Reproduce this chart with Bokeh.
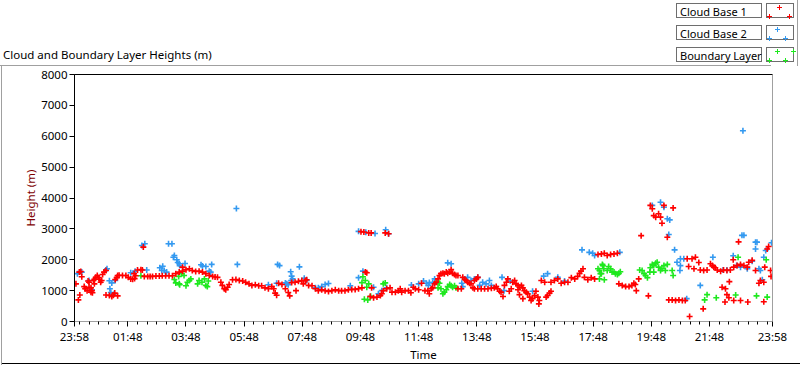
from bokeh.plotting import figure
from bokeh.models import FixedTicker, LinearAxis, Range1d, Div
from bokeh.layouts import column
from bokeh.embed import file_html
from bokeh.resources import INLINE

# time = minutes after the 23:58 start, height in metres
cb1_t = [3, 10, 13, 15, 8, 11, 20, 22, 26, 28, 30, 30, 34, 34, 36, 37, 41, 39, 41, 44, 47, 50, 51, 54, 56, 58, 61, 65, 65, 72, 77, 80, 83, 89, 84, 87, 89, 92, 99, 106, 111, 116, 120, 123, 126, 124, 130, 137, 140, 142, 144, 151, 156, 161, 168, 175, 181, 188, 195, 202, 209, 216, 223, 230, 237, 243, 250, 257, 264, 271, 278, 285, 290, 295, 223, 302, 305, 309, 312, 316, 319, 326, 333, 340, 347, 353, 360, 366, 373, 380, 386, 393, 400, 407, 411, 414, 417, 421, 428, 435, 441, 444, 448, 455, 462, 469, 472, 476, 479, 457, 483, 490, 497, 503, 510, 517, 524, 531, 538, 545, 551, 558, 565, 572, 579, 586, 593, 600, 603, 591, 597, 607, 612, 641, 648, 613, 610, 617, 624, 631, 634, 637, 644, 651, 655, 662, 668, 672, 675, 682, 689, 694, 699, 703, 710, 716, 723, 729, 732, 736, 739, 743, 746, 750, 753, 756, 760, 763, 767, 770, 774, 777, 780, 784, 787, 791, 791, 798, 801, 805, 808, 811, 815, 818, 822, 825, 832, 839, 846, 853, 860, 866, 870, 873, 877, 880, 884, 825, 829, 832, 887, 891, 894, 897, 901, 904, 908, 911, 915, 918, 922, 925, 928, 932, 935, 939, 942, 945, 949, 952, 956, 959, 958, 915, 918, 925, 963, 970, 973, 976, 980, 983, 983, 990, 997, 1004, 1011, 1018, 1025, 1032, 1038, 1042, 1045, 1049, 1052, 1059, 1066, 1073, 1080, 1087, 1093, 1099, 1106, 1113, 1120, 1188, 1192, 1195, 1199, 1205, 1209, 1216, 1235, 1212, 1169, 1223, 1123, 1130, 1137, 1144, 1150, 1154, 1157, 1159, 1164, 1184, 1226, 1233, 1240, 1247, 1254, 1260, 1264, 1274, 1281, 1288, 1278, 1267, 1269, 1297, 1291, 1298, 1305, 1312, 1316, 1319, 1322, 1326, 1333, 1339, 1346, 1336, 1343, 1346, 1350, 1342, 1351, 1360, 1374, 1389, 1353, 1360, 1367, 1374, 1381, 1388, 1391, 1398, 1405, 1412, 1415, 1422, 1424, 1429, 1432, 1436, 1437, 1359, 1370, 1422]
cb1_h = [1220, 1600, 1620, 1450, 700, 860, 1130, 1060, 1000, 1310, 1270, 1110, 1090, 950, 1000, 930, 1220, 1330, 1370, 1430, 1490, 1420, 1370, 1270, 1330, 1520, 1600, 1650, 860, 840, 810, 850, 920, 830, 1360, 1420, 1490, 1500, 1490, 1490, 1430, 1380, 1370, 1550, 1480, 1390, 1670, 1680, 1670, 2410, 1460, 1460, 1460, 1460, 1470, 1470, 1480, 1480, 1480, 1480, 1550, 1600, 1630, 1680, 1710, 1650, 1620, 1630, 1600, 1550, 1490, 1460, 1440, 1430, 1760, 1270, 1170, 1060, 1030, 1110, 1200, 1350, 1360, 1330, 1310, 1270, 1220, 1170, 1190, 1160, 1160, 1090, 1060, 1130, 1060, 920, 850, 1240, 1200, 1060, 940, 830, 1260, 1270, 1300, 1330, 1220, 1330, 1350, 1000, 1170, 1160, 1060, 1000, 1030, 1000, 970, 1000, 1030, 1000, 1000, 1000, 1030, 1040, 1040, 1060, 1090, 1600, 1580, 2910, 2900, 2870, 2870, 2870, 2840, 1090, 810, 770, 790, 840, 900, 1000, 1060, 1090, 950, 950, 1000, 1060, 950, 1000, 1000, 930, 1110, 1060, 1030, 1240, 1000, 1000, 900, 1060, 1090, 1220, 1270, 1380, 1490, 1550, 1560, 1550, 1600, 1560, 1600, 1680, 1560, 1520, 1490, 1490, 1060, 1060, 1430, 1360, 1330, 1270, 1240, 1220, 1090, 1060, 1060, 1060, 1060, 1060, 1080, 1090, 1130, 1060, 980, 950, 810, 1330, 1380, 1430, 1170, 1270, 1380, 980, 1060, 1270, 1330, 1220, 1170, 1110, 1170, 1090, 1000, 950, 900, 790, 680, 740, 840, 980, 790, 680, 570, 1030, 870, 740, 1330, 1270, 790, 840, 920, 980, 1270, 1330, 1380, 1240, 1270, 1270, 1420, 1380, 1460, 1560, 1630, 1710, 1430, 1350, 1420, 1380, 2170, 2190, 2210, 2140, 2170, 2190, 2210, 3760, 3650, 3430, 3380, 3490, 3380, 3760, 3680, 3180, 2780, 2730, 1220, 1170, 1130, 1130, 1170, 1240, 1200, 1000, 1380, 830, 700, 700, 680, 700, 680, 680, 2030, 2030, 2080, 1910, 1710, 1780, 160, 410, 1670, 1650, 1670, 1870, 1810, 1760, 1740, 1670, 1630, 1670, 1650, 1110, 1060, 870, 770, 630, 1290, 680, 680, 630, 1670, 1760, 1810, 1850, 1810, 1760, 1920, 1980, 1650, 1240, 1330, 1270, 1760, 2350, 2430, 1650, 1460, 2000, 2580, 640]

cb2_t = [6, 15, 30, 36, 67, 65, 72, 77, 73, 75, 82, 84, 116, 125, 139, 145, 149, 176, 182, 185, 190, 180, 194, 201, 204, 206, 211, 213, 216, 217, 228, 261, 264, 271, 278, 281, 283, 334, 336, 419, 423, 464, 446, 448, 450, 447, 400, 417, 435, 438, 441, 474, 479, 497, 503, 510, 517, 524, 569, 586, 601, 620, 642, 648, 595, 586, 617, 627, 634, 644, 695, 710, 720, 730, 726, 732, 739, 743, 770, 777, 805, 811, 818, 825, 832, 836, 842, 849, 856, 860, 799, 801, 882, 886, 899, 945, 968, 976, 997, 1011, 1047, 1062, 1069, 1073, 1125, 1192, 1209, 1216, 1223, 1228, 1226, 1238, 1250, 1257, 1243, 1250, 1249, 1263, 1291, 1317, 1377, 1381, 1405, 1408, 1405, 1426, 1438, 1359, 1366, 1374, 1388, 1398, 1412, 1422, 1415, 1419, 1338, 1346, 1379]
cb2_h = [1550, 1600, 1330, 1030, 1710, 1670, 1320, 1250, 1060, 940, 900, 1330, 1580, 1630, 2460, 2520, 1670, 1740, 1790, 1650, 1600, 1650, 2520, 2520, 2080, 2140, 2000, 1910, 1870, 1810, 1880, 1840, 1800, 1780, 1630, 1600, 1850, 3660, 1850, 1850, 1810, 1770, 1610, 1470, 1380, 1330, 1190, 1240, 1250, 1220, 1190, 1400, 1330, 1090, 1090, 1130, 1200, 1230, 1160, 2920, 2890, 2850, 2970, 2840, 1630, 1420, 1110, 900, 1000, 1090, 1180, 1220, 1310, 1170, 1240, 1260, 1260, 1380, 1900, 1870, 1380, 1430, 1330, 1380, 1430, 1170, 1270, 1220, 1330, 1170, 1240, 1130, 1430, 1000, 1310, 980, 1470, 1550, 1430, 1310, 2320, 2240, 2210, 2140, 2240, 3760, 3860, 3700, 3330, 3290, 2820, 2320, 2030, 2030, 1920, 1810, 1650, 740, 1170, 2080, 2790, 2790, 2570, 2570, 2350, 2300, 2550, 2130, 1810, 1760, 1710, 1950, 1710, 2080, 1650, 1350, 1670, 1670, 6180]

bl_t = [137, 206, 209, 216, 217, 215, 221, 226, 230, 233, 237, 240, 254, 257, 263, 268, 271, 274, 276, 595, 593, 600, 607, 603, 598, 605, 611, 637, 641, 750, 753, 750, 756, 760, 763, 767, 770, 774, 777, 780, 784, 787, 1080, 1083, 1087, 1090, 1092, 1093, 1083, 1089, 1099, 1102, 1106, 1109, 1113, 1116, 1120, 1123, 1126, 1085, 1166, 1171, 1175, 1178, 1182, 1188, 1192, 1195, 1199, 1202, 1205, 1209, 1212, 1216, 1219, 1223, 1233, 1235, 1187, 1195, 1305, 1300, 1324, 1364, 1369, 1407, 1429, 1427]
bl_h = [1480, 1360, 1250, 1220, 1190, 1460, 1550, 1490, 1160, 1270, 1330, 1380, 1220, 1330, 1270, 1380, 1170, 1130, 1310, 1450, 1260, 1330, 1220, 1110, 720, 700, 820, 1220, 1250, 1270, 1240, 1090, 1060, 900, 950, 1030, 1130, 1200, 1160, 1110, 1160, 1090, 1710, 1650, 1550, 1810, 1710, 1350, 1380, 1850, 1650, 1780, 1710, 1600, 1600, 1550, 1520, 1560, 1610, 1550, 1670, 1650, 1550, 1490, 1420, 1740, 1850, 1810, 1890, 1920, 1760, 1650, 1710, 1810, 1650, 1850, 1650, 1490, 1600, 1600, 870, 700, 770, 860, 2080, 830, 790, 2000]

x_ticks = [0, 110, 230, 350, 470, 590, 710, 830, 950, 1070, 1190, 1310, 1440]
x_tick_labels = ["23:58", "01:48", "03:48", "05:48", "07:48", "09:48", "11:48",
                 "13:48", "15:48", "17:48", "19:48", "21:48", "23:58"]
x_minor = list(range(10, 1440, 20))
y_ticks = [0, 1000, 2000, 3000, 4000, 5000, 6000, 7000, 8000]

chart_title = "Cloud and Boundary Layer Heights (m)"
series_names = ["Cloud Base 1", "Cloud Base 2", "Boundary Layer"]
series_colors = ["#ff0000", "#3399f0", "#1ee81e"]

FONT = "Noto Sans"
FS = "11.5px"
LFS = "11px"

# ---------- header strip (title + LabVIEW style plot legend) ----------
HEAD_H = 66
parts = []
parts.append(f'<div style="position:absolute;left:3px;top:48px;white-space:nowrap;'
             f'font-family:\'{FONT}\';font-size:{FS};color:#000;line-height:14px;">{chart_title}</div>')
parts.append('<div style="position:absolute;left:0px;top:65px;width:771px;height:1px;background:#a0a0a0;"></div>')
parts.append('<div style="position:absolute;left:797px;top:0px;width:1px;height:66px;background:#a0a0a0;"></div>')
cross_pos = [[(12, 3), (2, 12), (22, 12)],
             [(10, 3), (2, 12), (18, 12)],
             [(10, 3), (26, 3), (2, 12), (18, 12)]]
row_tops = [3, 25, 47]
for name, col, top, crosses in zip(series_names, series_colors, row_tops, cross_pos):
    parts.append(f'<div style="position:absolute;left:676px;top:{top}px;width:86px;height:15px;'
                 f'border:1px solid #6e6e6e;background:#fff;"></div>')
    parts.append(f'<div style="position:absolute;left:680px;top:{top}px;height:17px;line-height:17px;'
                 f'white-space:nowrap;font-family:\'{FONT}\';font-size:{LFS};color:#000;">{name}</div>')
    parts.append(f'<div style="position:absolute;left:766px;top:{top}px;width:28px;height:15px;'
                 f'border:1px solid #6e6e6e;background:#fff;"></div>')
    for cx, cy in crosses:
        x0 = 767 + cx
        y0 = top + 1 + cy
        parts.append(f'<div style="position:absolute;left:{x0 - 2}px;top:{y0}px;width:5px;height:1px;background:{col};"></div>')
        parts.append(f'<div style="position:absolute;left:{x0}px;top:{y0 - 2}px;width:1px;height:5px;background:{col};"></div>')
head_html = (f'<div style="position:relative;width:800px;height:{HEAD_H}px;overflow:visible;">'
             + "".join(parts) + '</div>')
head = Div(text=head_html, width=800, height=HEAD_H, margin=0)

# ---------- chart ----------
p = figure(width=800, height=365 - HEAD_H, x_range=Range1d(0, 1440), y_range=Range1d(0, 8000),
           output_backend="svg", toolbar_location=None, margin=0,
           min_border_left=74, min_border_right=28, min_border_top=8, min_border_bottom=44)
p.styles = {"box-shadow": "inset 1px 0 0 #ffffff, inset 2px 0 0 #a0a0a0, "
                          "inset 0 -1px 0 #ffffff, inset 0 -2px 0 #000000"}
p.xgrid.visible = False
p.ygrid.visible = False
p.outline_line_color = "black"
p.background_fill_color = "white"
p.border_fill_alpha = 0

xa = p.xaxis[0]
xa.ticker = FixedTicker(ticks=x_ticks, minor_ticks=x_minor)
xa.major_label_overrides = {t: l for t, l in zip(x_ticks, x_tick_labels)}
xa.axis_label = "Time"
ya = p.yaxis[0]
ya.ticker = FixedTicker(ticks=y_ticks, minor_ticks=[])
ya.axis_label = "Height (m)"
for ax in (xa, ya):
    ax.major_tick_out = 5
    ax.major_tick_in = 0
    ax.minor_tick_out = 3
    ax.minor_tick_in = 0
    ax.major_tick_line_color = "black"
    ax.minor_tick_line_color = "black"
    ax.major_label_text_font = FONT
    ax.major_label_text_font_size = FS
    ax.major_label_text_color = "black"
    ax.major_label_standoff = 2
    ax.axis_label_text_font = FONT
    ax.axis_label_text_font_size = FS
    ax.axis_label_text_font_style = "normal"
    ax.axis_label_standoff = 0
xa.axis_line_color = "#a0a0a0"
ya.axis_line_color = "black"
ya.axis_label_text_color = "#800000"
xa.axis_label_text_color = "black"

ra = LinearAxis(ticker=FixedTicker(ticks=[]), axis_line_color="#a0a0a0",
                major_tick_line_color=None, minor_tick_line_color=None,
                major_label_text_font_size="0px")
p.add_layout(ra, "right")

for t, h, c in [(cb2_t, cb2_h, series_colors[1]), (bl_t, bl_h, series_colors[2]),
                (cb1_t, cb1_h, series_colors[0])]:
    p.scatter(t, h, marker="cross", size=6, line_width=1.6, color=c)

layout = column(head, p, spacing=0, margin=0)
open("out.html", "w").write(file_html(layout, INLINE))
